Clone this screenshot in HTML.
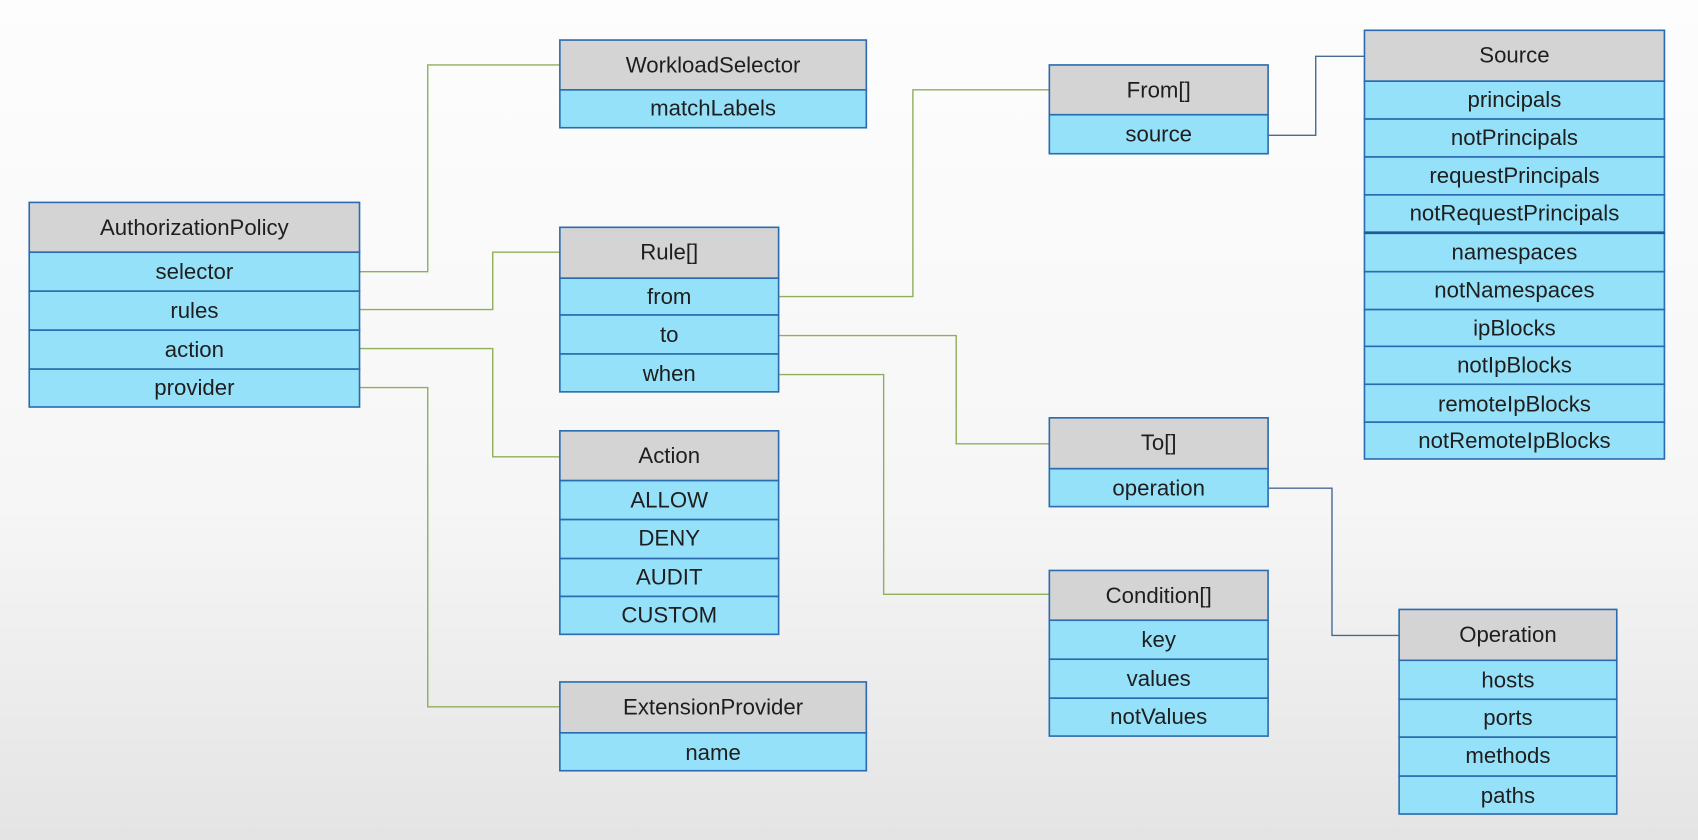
<!DOCTYPE html>
<html><head><meta charset="utf-8"><style>
html,body{margin:0;padding:0;width:1698px;height:840px;overflow:hidden}
svg{display:block}
text{font-family:"Liberation Sans",sans-serif;font-size:20.5px;fill:#1e1e1e;text-anchor:middle;dominant-baseline:central}
.h{fill:#d4d4d4;stroke:#2b6cb0;stroke-width:1.5}
.r{fill:#95e1f9;stroke:#2b6cb0;stroke-width:1.5}
.g{fill:none;stroke:#8fb05a;stroke-width:1.3}
.b{fill:none;stroke:#4a6a96;stroke-width:1.3}
</style></head><body>
<svg width="1698" height="840" viewBox="0 0 1568 776" preserveAspectRatio="none">
<defs><linearGradient id="bg" x1="0" y1="0" x2="0" y2="1">
<stop offset="0" stop-color="#fdfdfd"/><stop offset="0.6" stop-color="#f6f6f6"/><stop offset="1" stop-color="#e4e4e4"/></linearGradient></defs>
<rect width="1568" height="776" fill="url(#bg)"/>
<!-- connectors -->
<polyline class="g" points="332,251 395,251 395,60 517,60"/>
<polyline class="g" points="332,286 455,286 455,233 517,233"/>
<polyline class="g" points="332,322 455,322 455,422 517,422"/>
<polyline class="g" points="332,358 395,358 395,653 517,653"/>
<polyline class="g" points="719,274 843,274 843,83 969,83"/>
<polyline class="g" points="719,310 883,310 883,410 969,410"/>
<polyline class="g" points="719,346 816,346 816,549 969,549"/>
<polyline class="b" points="1171,125 1215,125 1215,52 1260,52"/>
<polyline class="b" points="1171,451 1230,451 1230,587 1292,587"/>
<!-- AuthorizationPolicy -->
<rect class="h" x="27" y="187" width="305" height="46"/><text x="179.5" y="210">AuthorizationPolicy</text>
<rect class="r" x="27" y="233" width="305" height="36"/><text x="179.5" y="251">selector</text>
<rect class="r" x="27" y="269" width="305" height="36"/><text x="179.5" y="287">rules</text>
<rect class="r" x="27" y="305" width="305" height="36"/><text x="179.5" y="323">action</text>
<rect class="r" x="27" y="341" width="305" height="35"/><text x="179.5" y="358">provider</text>
<!-- WorkloadSelector -->
<rect class="h" x="517" y="37" width="283" height="46"/><text x="658.5" y="60">WorkloadSelector</text>
<rect class="r" x="517" y="83" width="283" height="35"/><text x="658.5" y="100">matchLabels</text>
<!-- Rule -->
<rect class="h" x="517" y="210" width="202" height="47"/><text x="618" y="233">Rule[]</text>
<rect class="r" x="517" y="257" width="202" height="34"/><text x="618" y="274">from</text>
<rect class="r" x="517" y="291" width="202" height="36"/><text x="618" y="309">to</text>
<rect class="r" x="517" y="327" width="202" height="35"/><text x="618" y="345">when</text>
<!-- Action -->
<rect class="h" x="517" y="398" width="202" height="46"/><text x="618" y="421">Action</text>
<rect class="r" x="517" y="444" width="202" height="36"/><text x="618" y="462">ALLOW</text>
<rect class="r" x="517" y="480" width="202" height="36"/><text x="618" y="497">DENY</text>
<rect class="r" x="517" y="516" width="202" height="35"/><text x="618" y="533">AUDIT</text>
<rect class="r" x="517" y="551" width="202" height="35"/><text x="618" y="568">CUSTOM</text>
<!-- ExtensionProvider -->
<rect class="h" x="517" y="630" width="283" height="47"/><text x="658.5" y="653">ExtensionProvider</text>
<rect class="r" x="517" y="677" width="283" height="35"/><text x="658.5" y="695">name</text>
<!-- From -->
<rect class="h" x="969" y="60" width="202" height="46"/><text x="1070" y="83">From[]</text>
<rect class="r" x="969" y="106" width="202" height="36"/><text x="1070" y="124">source</text>
<!-- To -->
<rect class="h" x="969" y="386" width="202" height="47"/><text x="1070" y="409">To[]</text>
<rect class="r" x="969" y="433" width="202" height="35"/><text x="1070" y="451">operation</text>
<!-- Condition -->
<rect class="h" x="969" y="527" width="202" height="46"/><text x="1070" y="550">Condition[]</text>
<rect class="r" x="969" y="573" width="202" height="36"/><text x="1070" y="591">key</text>
<rect class="r" x="969" y="609" width="202" height="36"/><text x="1070" y="627">values</text>
<rect class="r" x="969" y="645" width="202" height="35"/><text x="1070" y="662">notValues</text>
<!-- Source -->
<rect class="h" x="1260" y="28" width="277" height="47"/><text x="1398.5" y="51">Source</text>
<rect class="r" x="1260" y="75" width="277" height="35"/><text x="1398.5" y="92">principals</text>
<rect class="r" x="1260" y="110" width="277" height="35"/><text x="1398.5" y="127">notPrincipals</text>
<rect class="r" x="1260" y="145" width="277" height="35"/><text x="1398.5" y="162">requestPrincipals</text>
<rect class="r" x="1260" y="180" width="277" height="35"/><text x="1398.5" y="197">notRequestPrincipals</text>
<rect class="r" x="1260" y="215" width="277" height="36"/><text x="1398.5" y="233">namespaces</text>
<rect class="r" x="1260" y="251" width="277" height="35"/><text x="1398.5" y="268">notNamespaces</text>
<rect class="r" x="1260" y="286" width="277" height="34"/><text x="1398.5" y="303">ipBlocks</text>
<rect class="r" x="1260" y="320" width="277" height="35"/><text x="1398.5" y="337">notIpBlocks</text>
<rect class="r" x="1260" y="355" width="277" height="35"/><text x="1398.5" y="373">remoteIpBlocks</text>
<rect class="r" x="1260" y="390" width="277" height="34"/><text x="1398.5" y="407">notRemoteIpBlocks</text>
<line x1="1260" y1="215" x2="1537" y2="215" stroke="#1f5a96" stroke-width="2.5"/>
<!-- Operation -->
<rect class="h" x="1292" y="563" width="201" height="47"/><text x="1392.5" y="586">Operation</text>
<rect class="r" x="1292" y="610" width="201" height="36"/><text x="1392.5" y="628">hosts</text>
<rect class="r" x="1292" y="646" width="201" height="35"/><text x="1392.5" y="663">ports</text>
<rect class="r" x="1292" y="681" width="201" height="36"/><text x="1392.5" y="698">methods</text>
<rect class="r" x="1292" y="717" width="201" height="35"/><text x="1392.5" y="735">paths</text>
</svg>
</body></html>
